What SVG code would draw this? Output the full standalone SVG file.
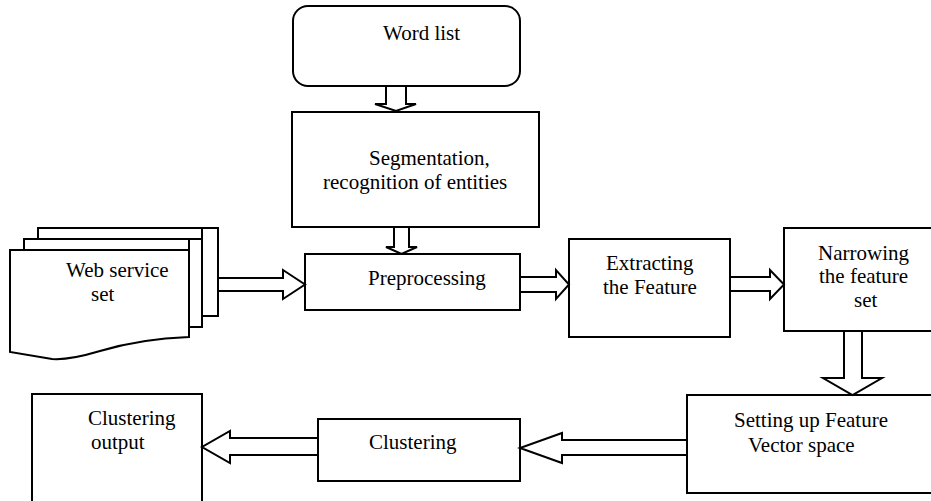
<svg xmlns="http://www.w3.org/2000/svg" width="931" height="501" viewBox="0 0 931 501">
<style>
.box{fill:#fff;stroke:#000;stroke-width:2}
.arr{fill:#fff;stroke:#000;stroke-width:2;stroke-linejoin:miter}
text{font-family:"Liberation Serif","Times New Roman",serif;font-size:21px;fill:#000}
</style>
<rect width="931" height="501" fill="#fff"/>
<g id="word-list">
<rect class="box" x="293" y="6" width="227" height="80" rx="15" ry="15"/>
<text x="383" y="40">Word list</text>
</g>
<g id="segmentation">
<rect class="box" x="292" y="112" width="247" height="115"/>
<text x="369" y="165">Segmentation,</text>
<text x="323" y="189">recognition of entities</text>
</g>
<g id="web-service-set">
<path class="box" d="M38,228 H218 V316 H202 V228 Z"/>
<path class="box" d="M24,239 H202 V327 H189 V239 Z"/>
<path class="box" d="M38,228 H218 V316 H202 V327 H189 V250 H24 V239 H38 Z" style="fill:none"/>
<path class="box" d="M10,250 H189 V337 C160,338 130,342 100,351 C80,357 65,360 52,359 L10,352 Z"/>
<text x="66" y="277">Web service</text>
<text x="91" y="301">set</text>
</g>
<g id="preprocessing">
<rect class="box" x="305" y="254" width="215" height="56"/>
<text x="368" y="285">Preprocessing</text>
</g>
<g id="extracting">
<rect class="box" x="569" y="239" width="161" height="98"/>
<text x="606" y="270">Extracting</text>
<text x="603" y="294">the Feature</text>
</g>
<g id="narrowing">
<rect class="box" x="784" y="228" width="160" height="103"/>
<text x="818" y="260">Narrowing</text>
<text x="819" y="283">the feature</text>
<text x="854" y="307">set</text>
</g>
<g id="feature-vector-space">
<rect class="box" x="687" y="395" width="257" height="98"/>
<text x="734" y="427">Setting up Feature</text>
<text x="748" y="452">Vector space</text>
</g>
<g id="clustering">
<rect class="box" x="318" y="419" width="202" height="62"/>
<text x="369" y="449">Clustering</text>
</g>
<g id="clustering-output">
<rect class="box" x="32" y="394" width="170" height="120"/>
<text x="88" y="425">Clustering</text>
<text x="91" y="449">output</text>
</g>
<g id="connectors">
<polygon class="arr" points="386,86 406,86 406,104 416,104 396,111 375,104 386,104"/>
<polygon class="arr" points="394,227 409,227 409,247 417,247 401.5,254 386,247 394,247"/>
<polygon class="arr" points="218,278 283,278 283,270 305,284.5 283,299 283,291 218,291"/>
<polygon class="arr" points="520,277 556,277 556,270 569,284.5 556,299 556,292 520,292"/>
<polygon class="arr" points="730,277 770,277 770,270 784,284.5 770,299 770,291 730,291"/>
<polygon class="arr" points="844,331 862,331 862,378 882,378 852.5,395 823,378 844,378"/>
<polygon class="arr" points="687,440 562,440 562,433 520,448 562,463 562,455 687,455"/>
<polygon class="arr" points="318,438 230,438 230,431 202,447 230,463 230,455 318,455"/>
</g>
</svg>
